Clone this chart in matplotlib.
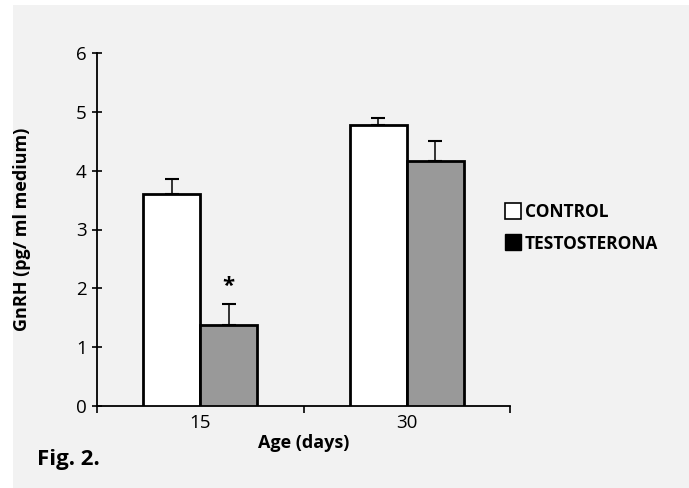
import matplotlib
matplotlib.use("Agg")
import matplotlib.pyplot as plt
from matplotlib.patches import Rectangle
from matplotlib.lines import Line2D
import numpy as np

# data
ages = ["15", "30"]
control = [3.6, 4.78]
control_err = [0.25, 0.12]
testo = [1.38, 4.17]
testo_err = [0.35, 0.33]

plt.rcParams['font.family'] = ['Open Sans', 'DejaVu Sans']

fig = plt.figure(figsize=(6.89, 4.88), dpi=100)
fig.patch.set_facecolor("white")
fig.patches.append(Rectangle((13 / 689, 0), 1, 483 / 488, transform=fig.transFigure,
                             facecolor="#f2f2f2", edgecolor="none", zorder=-10))

ax = fig.add_axes([97 / 689, 82 / 488, 413 / 689, 353 / 488])
ax.set_facecolor("none")

x = np.arange(len(ages))
w = 0.275
ax.bar(x - w / 2, control, w, color="white", edgecolor="black", linewidth=2.0, zorder=3)
ax.bar(x + w / 2, testo, w, color="#999999", edgecolor="black", linewidth=2.0, zorder=3)
ax.errorbar(x - w / 2, control, yerr=[np.zeros(2), control_err], fmt="none",
            ecolor="black", elinewidth=1.1, capsize=5, capthick=1.5, zorder=2)
ax.errorbar(x + w / 2, testo, yerr=[np.zeros(2), testo_err], fmt="none",
            ecolor="black", elinewidth=1.1, capsize=5, capthick=1.5, zorder=2)

ax.text(x[0] + w / 2, 2.03, "*", ha="center", va="center", fontsize=16, fontweight="bold")

ax.set_xlim(-0.5, 1.5)
ax.set_ylim(0, 6)
ax.set_yticks(range(0, 7))
ax.set_xticks([-0.5, 0.5, 1.5])
ax.set_xticklabels([])
ax.set_xticks(x, minor=True)
ax.set_xticklabels(ages, minor=True)
ax.tick_params(axis="x", which="minor", length=0, labelsize=13.5, pad=6)
ax.tick_params(axis="x", which="major", direction="out", length=5, width=1.2)
ax.tick_params(axis="y", direction="inout", length=7, width=1.2, labelsize=13.5, pad=4)

for s in ["top", "right"]:
    ax.spines[s].set_visible(False)
for s in ["left", "bottom"]:
    ax.spines[s].set_linewidth(1.3)

ax.set_ylabel("GnRH (pg/ ml medium)", fontsize=13, fontweight="bold")
ax.yaxis.set_label_coords(-66 / 413, 0.5)
ax.set_xlabel("Age (days)", fontsize=13, fontweight="bold")
ax.xaxis.set_label_coords(0.5, -28 / 353)

handles = [Line2D([], [], marker="s", linestyle="none", markersize=11,
                  markerfacecolor="white", markeredgecolor="black", markeredgewidth=1.2),
           Line2D([], [], marker="s", linestyle="none", markersize=11,
                  markerfacecolor="black", markeredgecolor="black")]
leg = fig.legend(handles, ["CONTROL", "TESTOSTERONA"], loc="center left",
                 bbox_to_anchor=(490 / 689, 1 - 228 / 488), frameon=False,
                 handlelength=0.8, handletextpad=0.3, labelspacing=0.75,
                 prop={"weight": "bold", "size": 12.5})

fig.text(37 / 689, 1 - 460 / 488, "Fig. 2.", fontsize=16, fontweight="bold", va="center")

fig.savefig("out.png", dpi=100)
